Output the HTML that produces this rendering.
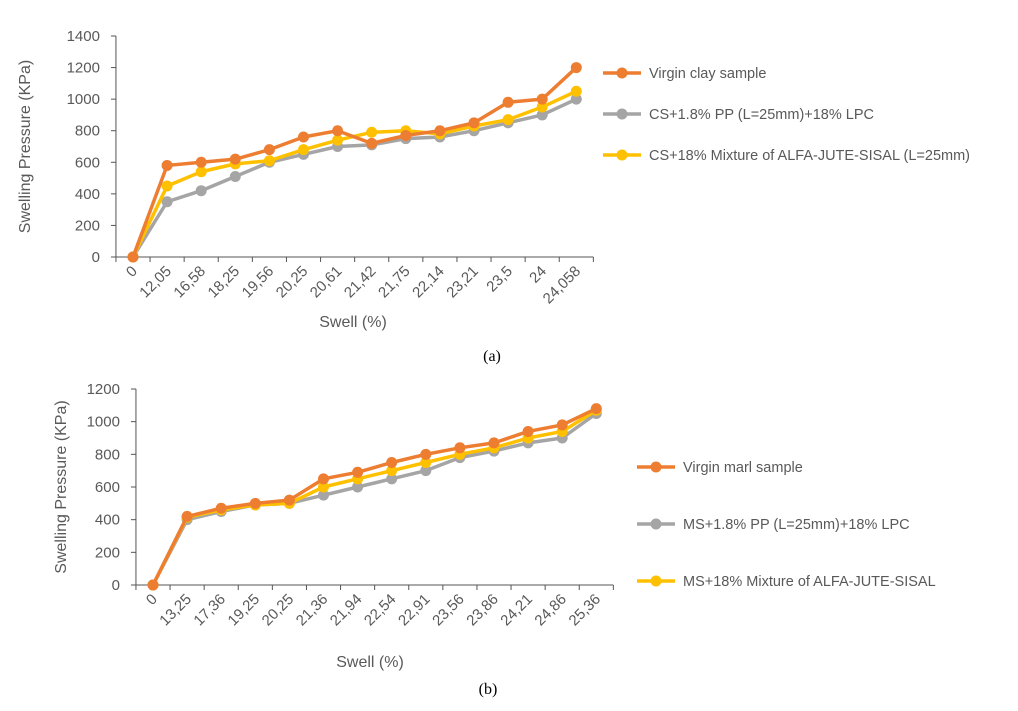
<!DOCTYPE html>
<html><head><meta charset="utf-8"><style>
body{margin:0;background:#fff;}
svg{display:block;font-family:"Liberation Sans",sans-serif;}
</style></head><body>
<svg id="s" width="1018" height="711">
<text x="492" y="361" font-family="Liberation Serif" font-size="16" fill="#000" text-anchor="middle">(a)</text>
<text x="488" y="694" font-family="Liberation Serif" font-size="16" fill="#000" text-anchor="middle">(b)</text>
</svg>
<script>
const catsA=["0","12,05","16,58","18,25","19,56","20,25","20,61","21,42","21,75","22,14","23,21","23,5","24","24,058"];
const virginA=[0,580,600,620,680,760,800,720,770,800,850,980,1000,1200];
const ppA=[0,350,420,510,600,650,700,710,750,760,800,850,900,1000];
const mixA=[0,450,540,590,610,680,740,790,800,780,830,870,950,1050];
const namesA=["Virgin clay sample","CS+1.8% PP (L=25mm)+18% LPC","CS+18% Mixture of ALFA-JUTE-SISAL (L=25mm)"];
const ticksA=[0,200,400,600,800,1000,1200,1400];
const catsB=["0","13,25","17,36","19,25","20,25","21,36","21,94","22,54","22,91","23,56","23,86","24,21","24,86","25,36"];
const virginB=[0,420,470,500,520,650,690,750,800,840,870,940,980,1080];
const ppB=[0,400,450,490,500,550,600,650,700,780,820,870,900,1050];
const mixB=[0,415,460,490,500,600,650,700,750,800,840,900,940,1070];
const namesB=["Virgin marl sample","MS+1.8% PP (L=25mm)+18% LPC","MS+18% Mixture of ALFA-JUTE-SISAL"];
const ticksB=[0,200,400,600,800,1000,1200];
const colors=["#ED7D31","#A5A5A5","#FFC000"];
const NS="http://www.w3.org/2000/svg";
const svg=document.getElementById('s');
function mk(tag,attrs,parent){const e=document.createElementNS(NS,tag);for(const k in attrs)e.setAttribute(k,attrs[k]);(parent||svg).appendChild(e);return e;}
function chart(c){
  const g=mk('g',{});
  
  
  const n=c.cats.length;
  const x=i=>c.x0+i*c.dx;
  const y=v=>c.y0-(v/c.ymax)*(c.y0-c.y1);
  const axX=c.x0-c.dx/2;
  const ax=mk('line',{x1:axX,y1:c.y1,x2:axX,y2:c.y0,stroke:'#555','stroke-width':1},g);
  
  const bx=mk('line',{x1:axX,y1:c.y0,x2:axX+n*c.dx,y2:c.y0,stroke:'#555','stroke-width':1},g);
  
  c.ticks.forEach(t=>{
    mk('line',{x1:axX-5,y1:y(t),x2:axX,y2:y(t),stroke:'#555'},g);
    const tl=mk('text',{x:axX-16,y:y(t)+5,'font-size':15,fill:'#595959','text-anchor':'end'},g);
    tl.textContent=t;
    
  });
  for(let i=0;i<=n;i++)mk('line',{x1:axX+i*c.dx,y1:c.y0,x2:axX+i*c.dx,y2:c.y0+5,stroke:'#555'},g);
  c.cats.forEach((cat,i)=>{
    const tx=x(i)+5,ty=c.y0+15;
    const tl=mk('text',{x:tx,y:ty,'font-size':15,fill:'#595959','text-anchor':'end',transform:`rotate(-45 ${tx} ${ty})`},g);
    tl.textContent=cat;
    
  });
  const yt=mk('text',{x:0,y:0,'font-size':16,fill:'#595959','text-anchor':'middle',transform:`translate(${c.ytx} ${(c.y0+c.y1)/2}) rotate(-90)`},g);
  yt.textContent='Swelling Pressure (KPa)';
  
  const xt=mk('text',{x:c.xtx,y:c.xty,'font-size':16,fill:'#595959','text-anchor':'middle'},g);
  xt.textContent='Swell (%)';
  
  [1,2,0].forEach(si=>{
    const vals=c.series[si];
    const pl=mk('polyline',{points:vals.map((v,i)=>x(i)+','+y(v)).join(' '),fill:'none',stroke:colors[si],'stroke-width':3.5,'stroke-linejoin':'round'},g);
    
    vals.forEach((v,i)=>{
      const p=mk('circle',{cx:x(i),cy:y(v),r:5.5,fill:colors[si]},g);
      
    });
  });
  c.names.forEach((nm,i)=>{
    const ly=c.ly[i];
    const le=mk('g',{},g);
    
    mk('line',{x1:c.lx,y1:ly,x2:c.lx+38,y2:ly,stroke:colors[i],'stroke-width':3.5},le);
    mk('circle',{cx:c.lx+19,cy:ly,r:5.5,fill:colors[i]},le);
    const t=mk('text',{x:c.lx+46,y:ly+5,'font-size':14.5,fill:'#595959'},le);
    t.textContent=nm;
  });
}
chart({id:'chart-a',cats:catsA,series:[virginA,ppA,mixA],names:namesA,ticks:ticksA,ymax:1400,x0:133,dx:34.1,y0:257,y1:36,ytx:30,xtx:353,xty:327,lx:603,ly:[73,114,155]});
chart({id:'chart-b',cats:catsB,series:[virginB,ppB,mixB],names:namesB,ticks:ticksB,ymax:1200,x0:153,dx:34.1,y0:585,y1:389,ytx:66,xtx:370,xty:667,lx:637,ly:[467,524,581]});
</script>
</body></html>
